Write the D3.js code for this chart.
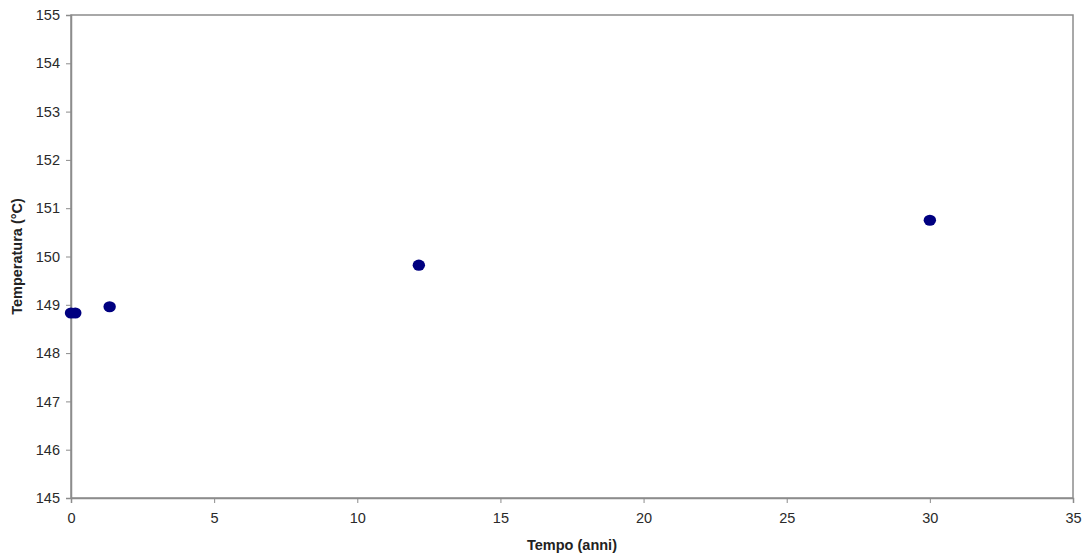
<!DOCTYPE html>
<html>
<head>
<meta charset="utf-8">
<script src="https://cdn.jsdelivr.net/npm/d3@7"></script>
<style>
  body { margin: 0; background: #fff; }
  svg { font-family: "Liberation Sans", Arial, sans-serif; }
</style>
</head>
<body>
<div id="chart"></div>
<script>
// data
var tempoAnni = [0, 0.15, 1.35, 12.15, 30];
var temperatura = [148.83, 148.83, 148.96, 149.82, 150.75];
var xTicks = [0, 5, 10, 15, 20, 25, 30, 35];
var yTicks = [145, 146, 147, 148, 149, 150, 151, 152, 153, 154, 155];

var width = 1089, height = 558;
var margin = {top: 15, right: 16, bottom: 60, left: 71};

var svg = d3.select("#chart").append("svg")
    .attr("width", width)
    .attr("height", height);

var x = d3.scaleLinear().domain([0, 35]).range([margin.left, width - margin.right]);
var y = d3.scaleLinear().domain([145, 155]).range([height - margin.bottom, margin.top]);

// plot frame
svg.append("rect")
    .attr("x", margin.left)
    .attr("y", margin.top)
    .attr("width", x(35) - x(0))
    .attr("height", y(145) - y(155))
    .attr("fill", "none")
    .attr("stroke", "#8c8c8c")
    .attr("stroke-width", 1.5);

// axes
var xAxis = svg.append("g")
    .attr("transform", "translate(0," + y(145) + ")")
    .call(d3.axisBottom(x).tickValues(xTicks).tickSize(5).tickPadding(10));

var yAxis = svg.append("g")
    .attr("transform", "translate(" + x(0) + ",0)")
    .call(d3.axisLeft(y).tickValues(yTicks).tickSize(5).tickPadding(6));

[xAxis, yAxis].forEach(function(g) {
  g.select(".domain").attr("stroke", "#8c8c8c").attr("stroke-width", 1.5);
  g.selectAll(".tick line").attr("stroke", "#8c8c8c");
  g.selectAll(".tick text")
      .attr("fill", "#2a2a2a")
      .style("font-size", "14.5px");
});

// points
svg.append("g").selectAll("ellipse")
    .data(tempoAnni)
    .enter().append("ellipse")
    .attr("cx", function(d) { return x(d); })
    .attr("cy", function(d, i) { return y(temperatura[i]); })
    .attr("rx", 6.2)
    .attr("ry", 5.6)
    .attr("fill", "#000080");

// axis titles
svg.append("text")
    .attr("x", (x(0) + x(35)) / 2)
    .attr("y", 550)
    .attr("text-anchor", "middle")
    .style("font-size", "14.5px")
    .style("font-weight", "bold")
    .attr("fill", "#222")
    .text("Tempo (anni)");

svg.append("text")
    .attr("transform", "translate(22," + ((y(145) + y(155)) / 2) + ") rotate(-90)")
    .attr("text-anchor", "middle")
    .style("font-size", "14.5px")
    .style("font-weight", "bold")
    .attr("fill", "#222")
    .text("Temperatura (°C)");
</script>
</body>
</html>
